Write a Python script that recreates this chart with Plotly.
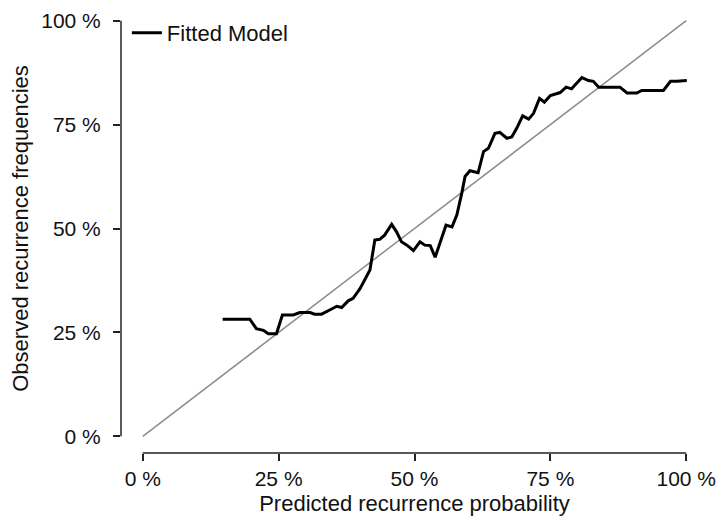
import plotly.graph_objects as go

# Fitted model calibration curve (predicted %, observed %)
pred = [14.7, 19.7, 20.9, 22.2, 23.1, 24.6, 25.7, 27.7, 28.9, 30.8, 31.6, 32.9, 34.4,
        35.7, 36.6, 37.8, 38.7, 40.0, 41.8, 42.7, 43.6, 44.5, 45.8, 46.7, 47.6,
        48.6, 49.8, 51.0, 51.9, 52.9, 53.8, 54.7, 55.8, 56.9, 57.8, 58.7, 59.3,
        60.2, 61.7, 62.7, 63.6, 64.8, 65.7, 67.0, 67.9, 68.8, 69.9, 71.0, 71.9,
        73.0, 73.9, 75.0, 76.8, 77.9, 78.9, 80.8, 82.0, 82.9, 83.9, 87.8, 89.1,
        90.9, 91.8, 95.8, 97.1, 98.3, 100.1]
obs = [28.2, 28.2, 25.9, 25.5, 24.7, 24.7, 29.2, 29.2, 29.8, 29.8, 29.4, 29.4, 30.4,
       31.3, 31.0, 32.6, 33.2, 35.6, 40.0, 47.2, 47.4, 48.4, 51.0, 49.2, 46.8,
       46.0, 44.7, 46.8, 46.0, 45.9, 43.1, 46.8, 50.8, 50.4, 53.3, 58.5, 62.5,
       63.9, 63.4, 68.5, 69.3, 72.9, 73.1, 71.7, 72.0, 74.1, 77.1, 76.3, 77.7,
       81.3, 80.4, 82.0, 82.7, 84.0, 83.6, 86.3, 85.6, 85.4, 84.0, 84.0, 82.6,
       82.6, 83.2, 83.2, 85.4, 85.4, 85.6]

ref_line = [0, 100]
tick_vals = [0, 25, 50, 75, 100]
tick_text = ["0 %", "25 %", "50 %", "75 %", "100 %"]

FONT = "Liberation Sans, Arial, sans-serif"
lo, hi = -4, 104
span = hi - lo

fig = go.Figure()
fig.add_trace(go.Scatter(x=ref_line, y=ref_line, mode="lines",
                         line=dict(color="#8c8c8c", width=1.5),
                         showlegend=False, hoverinfo="skip"))
fig.add_trace(go.Scatter(x=pred, y=obs, mode="lines", name="Fitted Model",
                         line=dict(color="black", width=3)))

axis_common = dict(range=[lo, hi], showgrid=False, zeroline=False, showline=False,
                   automargin=False,
                   ticks="outside", ticklen=7, tickwidth=1.5, tickcolor="#222",
                   tickvals=tick_vals, ticktext=tick_text,
                   tickfont=dict(family=FONT, size=21, color="#111"))

fig.update_layout(
    width=722, height=516,
    margin=dict(l=121, r=14, t=4, b=63),
    plot_bgcolor="white", paper_bgcolor="white",
    xaxis=dict(**axis_common, ticklabelstandoff=0,
               title=dict(text="Predicted recurrence probability",
                          font=dict(family=FONT, size=22, color="#111"), standoff=9)),
    yaxis=dict(**axis_common, ticklabelstandoff=8,
               title=dict(text="Observed recurrence frequencies",
                          font=dict(family=FONT, size=22, color="#111"), standoff=6)),
    legend=dict(x=0.01, y=1 - 8 / 449, xanchor="left", yanchor="top", itemwidth=30,
                bgcolor="rgba(0,0,0,0)", font=dict(family=FONT, size=22, color="#111")),
    showlegend=True,
)

# R-style axis lines spanning only the tick range
a, b = (0 - lo) / span, (100 - lo) / span
fig.add_shape(type="line", xref="paper", yref="paper", x0=a, x1=b, y0=0, y1=0,
              line=dict(color="#222", width=1.5))
fig.add_shape(type="line", xref="paper", yref="paper", x0=0, x1=0, y0=a, y1=b,
              line=dict(color="#222", width=1.5))

fig.write_html("out.html")
